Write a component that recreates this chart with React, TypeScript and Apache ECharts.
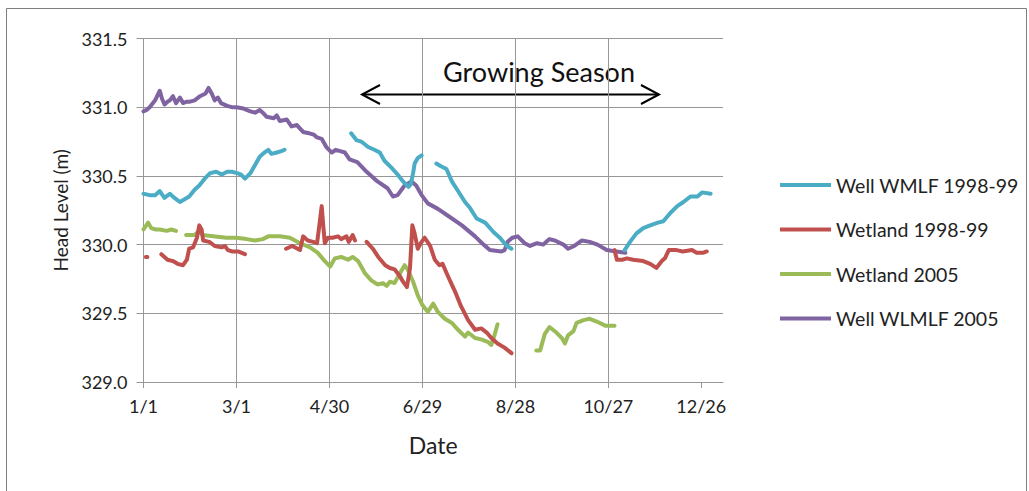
import React, { useEffect, useRef } from "react";
import * as echarts from "echarts";

// x = day of year (0 = 1/1), y = head level (m); null = gap in record
const xTickDays = [0, 60, 120, 180, 240, 300, 360];
const xTickLabels = ["1/1", "3/1", "4/30", "6/29", "8/28", "10/27", "12/26"];

const wellWMLF9899: (number | null)[][] = [
  [0, 330.37], [4, 330.36], [7.5, 330.36], [10.5, 330.39], [13.5, 330.34], [17, 330.37], [20, 330.34], [23.5, 330.31],
  [26.5, 330.33], [29.5, 330.35], [33, 330.4], [36, 330.43], [39.5, 330.48], [43, 330.52], [47, 330.53], [50.5, 330.51],
  [54, 330.53], [57, 330.53], [60.5, 330.52], [63, 330.51], [65.5, 330.48], [69, 330.52], [72, 330.58], [75, 330.64],
  [78, 330.67], [80.5, 330.69], [82.5, 330.66], [86, 330.67], [89, 330.68], [91, 330.69],
  [100, null],
  [134, 330.81], [137.5, 330.76], [140.5, 330.75], [145, 330.71], [149, 330.69], [152.5, 330.67], [155.5, 330.61],
  [160, 330.56], [164, 330.51], [167.5, 330.46], [171, 330.42], [172.5, 330.44], [174, 330.52], [175, 330.59],
  [177, 330.63], [179.5, 330.65],
  [184, null],
  [189, 330.59], [192, 330.57], [195.5, 330.55], [199, 330.46], [203, 330.39], [207.5, 330.31], [210.5, 330.27],
  [215, 330.19], [220.5, 330.16], [226, 330.09], [230, 330.05], [234.5, 329.99], [237.5, 329.97],
  [270, null],
  [310.5, 329.96], [314, 330.02], [318, 330.08], [322.5, 330.12], [327, 330.14], [332, 330.16], [335.5, 330.17],
  [340, 330.23], [344.5, 330.28], [348.5, 330.31], [353, 330.35], [357.5, 330.35], [360.5, 330.38], [366, 330.37],
];

const wetland9899: (number | null)[][] = [
  [1.5, 329.91], [2.5, 329.91],
  [6, null],
  [11.5, 329.93], [15.5, 329.89], [19, 329.88], [22, 329.86], [25.5, 329.85], [28, 329.89], [29.5, 329.97],
  [32, 329.98], [34.5, 330.05], [36, 330.14], [37.5, 330.11], [38.5, 330.03], [42.5, 330.02], [46, 329.99],
  [50.5, 329.98], [52.5, 329.99], [54.5, 329.96], [57.5, 329.95], [61, 329.95], [65.5, 329.93],
  [80, null],
  [92, 329.97], [96, 329.99], [101, 329.96], [103, 330.06], [106, 330.03], [109.5, 330.02], [112, 330.01],
  [113.5, 330.14], [115, 330.28], [116, 330.14], [117, 330.01], [119, 330.05], [122, 330.05], [125.5, 330.06],
  [127.5, 330.04], [131, 330.06], [132.5, 330.02], [135, 330.07], [136.5, 330.03],
  [140, null],
  [144, 330.02], [148, 329.97], [151.5, 329.91], [156, 329.85], [159, 329.83], [162, 329.82], [165.5, 329.77],
  [167.5, 329.73], [170, 329.69], [172, 329.83], [173.5, 330.14], [175, 330.08], [177, 329.97], [179.5, 330.02],
  [181.5, 330.05], [185, 329.99], [188, 329.89], [191, 329.85], [193, 329.86], [196.5, 329.77], [201, 329.66],
  [205, 329.55], [209.5, 329.45], [214, 329.38], [218, 329.39], [221.5, 329.36], [224.5, 329.32], [228.5, 329.28],
  [233, 329.25], [237.5, 329.21],
  [270, null],
  [304, 329.96], [305.5, 329.89], [309, 329.89], [312, 329.9], [316, 329.89], [322.5, 329.88], [327, 329.86],
  [331, 329.83], [334.5, 329.88], [336.5, 329.9], [339, 329.96], [344, 329.96], [348, 329.95], [354, 329.96],
  [357, 329.94], [361, 329.94], [363.5, 329.95],
];

const wetland2005: (number | null)[][] = [
  [0, 330.11], [3, 330.16], [5, 330.12], [8, 330.11], [10.5, 330.11], [15, 330.1], [18, 330.11], [21, 330.1],
  [24, null],
  [27.5, 330.07], [33, 330.07], [36, 330.1], [38, 330.07], [45, 330.06], [53.5, 330.05], [60, 330.05],
  [66.5, 330.04], [72, 330.03], [77, 330.04], [80.5, 330.06], [88, 330.06], [94.5, 330.05], [101, 330.01],
  [107.5, 329.98], [112.5, 329.94], [117, 329.88], [120.5, 329.84], [123.5, 329.9], [127.5, 329.91], [132, 329.89],
  [135, 329.91], [138.5, 329.88], [143, 329.79], [147, 329.74], [151, 329.71], [154.5, 329.72], [157, 329.7],
  [159, 329.73], [162, 329.72], [165.5, 329.79], [168.5, 329.85], [170.5, 329.82], [174, 329.73], [177, 329.63],
  [180, 329.56], [183.5, 329.51], [187, 329.57], [190, 329.51], [194.5, 329.46], [199, 329.43], [203, 329.38],
  [207.5, 329.33], [209.5, 329.36], [214, 329.32], [218, 329.31], [222.5, 329.29], [224.5, 329.27], [226.5, 329.34],
  [228.5, 329.42],
  [240, null],
  [253.5, 329.23], [256, 329.23], [259, 329.35], [262, 329.4], [266.5, 329.36], [270, 329.32], [272, 329.28],
  [274, 329.34], [277.5, 329.37], [279.5, 329.43], [284, 329.45], [288, 329.46], [292.5, 329.44], [298, 329.41],
  [304, 329.41],
];

const wellWLMLF2005: number[][] = [
  [0, 330.97], [2, 330.98], [4, 331.0], [7.5, 331.05], [10.5, 331.12], [12, 331.06], [13.6, 331.02], [15.5, 331.04],
  [17, 331.05], [19, 331.08], [21, 331.03], [23.5, 331.07], [25.5, 331.03], [28, 331.04], [30, 331.04], [33, 331.05],
  [36.5, 331.08], [40, 331.1], [42, 331.14], [44, 331.1], [46, 331.05], [48, 331.07], [50, 331.03], [54, 331.01],
  [57, 331.0], [60, 331.0], [64.5, 330.99], [69, 330.97], [72, 330.96], [75, 330.98], [77, 330.96], [79.5, 330.93],
  [84, 330.92], [86, 330.94], [88, 330.9], [92.5, 330.91], [95.5, 330.86], [99, 330.87], [103, 330.82], [107, 330.81],
  [110, 330.8], [112, 330.78], [115, 330.77], [118, 330.71], [121.5, 330.67], [124, 330.69], [127, 330.68],
  [130, 330.67], [133, 330.62], [138, 330.6], [144, 330.53], [151, 330.46], [157.5, 330.41], [161, 330.35],
  [164, 330.36], [168.5, 330.43], [173, 330.46], [176, 330.43], [179.5, 330.36], [183.5, 330.3], [190, 330.26],
  [196.5, 330.21], [205.5, 330.14], [214, 330.06], [218.5, 330.01], [223.5, 329.96], [231, 329.95], [233, 329.96],
  [235, 330.02], [238, 330.05], [241.5, 330.06], [246, 330.01], [249.5, 329.99], [254, 330.01], [258, 330.0],
  [262, 330.04], [265.5, 330.03], [271, 330.0], [274, 329.97], [278, 329.99], [283, 330.03], [288, 330.02],
  [293, 330.0], [299, 329.96], [305, 329.95], [311, 329.94],
];

const seriesNames = ["Well WMLF 1998-99", "Wetland 1998-99", "Wetland 2005", "Well WLMLF 2005"];
const seriesColors = ["#4BACC6", "#C0504D", "#9BBB59", "#8064A2"];
const seriesData = [wellWMLF9899, wetland9899, wetland2005, wellWLMLF2005];

const FONT = "Lato, 'Open Sans', sans-serif";
const GRID_COLOR = "#979797";

export default function App() {
  const ref = useRef<HTMLDivElement>(null);
  useEffect(() => {
    if (!ref.current) return;
    const chart = echarts.init(ref.current, undefined, { renderer: "svg" });
    const gridLeft = 143.5, gridTop = 38.5, gridRight = 1029 - 723, gridBottom = 491 - 382;
    chart.setOption({
      animation: false,
      backgroundColor: "#ffffff",
      textStyle: { fontFamily: FONT },
      grid: { left: gridLeft, top: gridTop, right: gridRight, bottom: gridBottom, containLabel: false },
      legend: {
        orient: "vertical",
        left: 775,
        top: 170,
        icon: "rect",
        itemWidth: 51,
        itemHeight: 4,
        itemGap: 24.5,
        data: seriesNames,
        textStyle: { fontFamily: FONT, fontSize: 19.5, color: "#222", lineHeight: 20 },
      },
      xAxis: {
        type: "value",
        min: 0,
        max: 374,
        interval: 60,
        name: "Date",
        nameLocation: "middle",
        nameGap: 51,
        nameTextStyle: { fontFamily: FONT, fontSize: 23, color: "#222" },
        axisLine: { show: true, lineStyle: { color: GRID_COLOR, width: 1 } },
        axisTick: { show: true, length: 6, customValues: xTickDays, lineStyle: { color: GRID_COLOR } },
        axisLabel: {
          customValues: xTickDays,
          margin: 15,
          fontFamily: FONT,
          fontSize: 18,
          color: "#222",
          formatter: (v: number) => {
            const i = xTickDays.indexOf(v);
            return i >= 0 ? xTickLabels[i] : "";
          },
        },
        splitLine: { show: true, showMaxLine: false, lineStyle: { color: GRID_COLOR, width: 1 } },
      },
      yAxis: {
        type: "value",
        min: 329,
        max: 331.5,
        interval: 0.5,
        name: "Head Level (m)",
        nameLocation: "middle",
        nameRotate: 90,
        nameGap: 74,
        nameTextStyle: { fontFamily: FONT, fontSize: 19, color: "#222" },
        axisLine: { show: true, lineStyle: { color: GRID_COLOR, width: 1 } },
        axisTick: { show: true, length: 7, lineStyle: { color: GRID_COLOR } },
        axisLabel: {
          margin: 16,
          fontFamily: FONT,
          fontSize: 18,
          color: "#222",
          formatter: (v: number) => v.toFixed(1),
        },
        splitLine: { show: true, lineStyle: { color: GRID_COLOR, width: 1 } },
      },
      series: seriesNames.map((name, i) => ({
        name,
        type: "line",
        data: seriesData[i],
        showSymbol: false,
        connectNulls: false,
        smooth: false,
        color: seriesColors[i],
        lineStyle: { color: seriesColors[i], width: 4, cap: "round", join: "round" },
        z: i === 0 ? 5 : 4 - i,
      })),
      graphic: [
        {
          type: "rect",
          silent: true,
          shape: { x: 6.5, y: 8.5, width: 1020, height: 500 },
          style: { fill: "none", stroke: "#7f7f7f", lineWidth: 1 },
        },
        {
          type: "line",
          silent: true,
          shape: { x1: 362, y1: 94.5, x2: 659, y2: 94.5 },
          style: { stroke: "#000", lineWidth: 2 },
        },
        {
          type: "polyline",
          silent: true,
          shape: { points: [[380, 85], [362, 94.5], [380, 104]] },
          style: { stroke: "#000", lineWidth: 2, fill: "none" },
        },
        {
          type: "polyline",
          silent: true,
          shape: { points: [[641, 85], [659, 94.5], [641, 104]] },
          style: { stroke: "#000", lineWidth: 2, fill: "none" },
        },
        {
          type: "text",
          silent: true,
          x: 539,
          y: 71,
          style: {
            text: "Growing Season",
            fontFamily: FONT,
            fontSize: 27,
            fill: "#111",
            align: "center",
            verticalAlign: "middle",
          },
        },
      ],
    });
    return () => chart.dispose();
  }, []);
  return (
    <div
      ref={ref}
      style={{ position: "fixed", left: 0, top: 0, width: 1029, height: 491, background: "#fff" }}
    />
  );
}
